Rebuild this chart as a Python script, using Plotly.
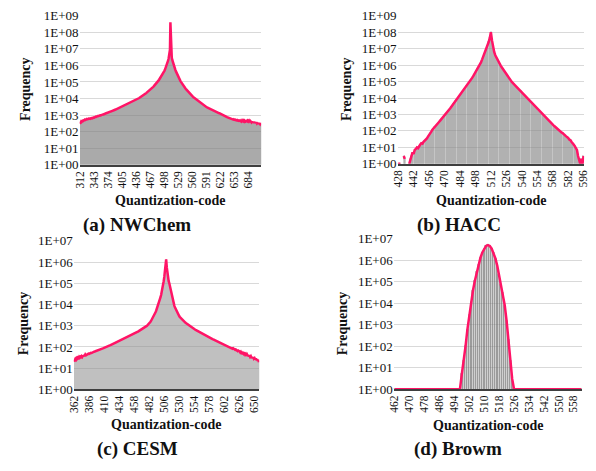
import plotly.graph_objects as go

# ---------------- data ----------------
nwchem_start = 312
nwchem_freq = [
    300, 380, 350, 420, 390, 440, 410, 470, 450, 500,
    480, 530, 510, 560, 540, 580, 560, 600, 570, 610,
    590, 620, 600, 640, 610, 660, 630, 680, 650, 700,
    690, 730, 710, 760, 740, 800, 780, 840, 820, 870,
    860, 900, 890, 940, 930, 980, 970, 1020, 1010, 1060,
    1060, 1100, 1100, 1150, 1150, 1200, 1210, 1260, 1270, 1330,
    1340, 1400, 1410, 1470, 1480, 1540, 1560, 1620, 1640, 1700,
    1720, 1780, 1810, 1870, 1900, 1960, 2000, 2060, 2100, 2170,
    2210, 2280, 2330, 2400, 2450, 2520, 2580, 2650, 2710, 2790,
    2860, 2940, 3010, 3100, 3180, 3270, 3360, 3460, 3560, 3660,
    3770, 3880, 4000, 4120, 4250, 4380, 4520, 4670, 4820, 4980,
    5150, 5320, 5500, 5690, 5880, 6080, 6290, 6510, 6740, 6980,
    7230, 7490, 7760, 8040, 8330, 8640, 8960, 9300, 9650, 10000,
    10400, 10800, 11200, 11700, 12200, 12700, 13200, 13800, 14400, 15000,
    15700, 16400, 17200, 18000, 18900, 19800, 20800, 21900, 23000, 24200,
    25500, 26900, 28400, 30000, 31700, 33500, 35500, 37600, 39900, 42400,
    45000, 47900, 51000, 54400, 58000, 62000, 66500, 71500, 77000, 83000,
    90000, 97000, 105000, 115000, 125000, 137000, 150000, 165000, 182000, 200000,
    222000, 246000, 273000, 304000, 340000, 380000, 430000, 490000, 560000, 650000,
    760000, 900000, 1080000, 1300000, 1600000, 2000000, 2600000, 3500000, 5000000, 9000000,
    400000000,
    12000000, 5000000, 3000000, 2200000, 1700000, 1350000, 1100000, 900000, 750000, 630000,
    530000, 450000, 385000, 330000, 285000, 248000, 216000, 190000, 167000, 148000,
    131000, 117000, 105000, 94000, 85000, 77000, 70000, 64000, 58500, 53500,
    49000, 45000, 41500, 38300, 35400, 32800, 30400, 28200, 26200, 24400,
    22700, 21200, 19800, 18500, 17300, 16200, 15200, 14300, 13400, 12600,
    12000, 11400, 10800, 10200, 9700, 9200, 8700, 8250, 7850, 7450,
    7100, 6750, 6400, 6100, 5800, 5500, 5250, 5000, 4750, 4550,
    4350, 4150, 3950, 3800, 3650, 3500, 3350, 3250, 3100, 3000,
    2950, 2850, 2800, 2700, 2750, 2600, 2550, 2400, 2350, 2250,
    2200, 2100, 2050, 1950, 1900, 1850, 1750, 1700, 1650, 1600,
    1550, 1500, 1480, 1420, 1400, 1350, 1330, 1300, 1260, 1280,
    1220, 1250, 1180, 1200, 1130, 1100, 1060, 1000, 960, 920,
    880, 850, 820, 790, 760, 740, 710, 690, 670, 650,
    640, 620, 600, 590, 570, 560, 550, 545, 530, 560,
    520, 540, 500, 520, 490, 510, 470, 500, 460, 480,
    450, 470, 440, 460, 430, 470, 420, 450, 440, 480,
    430, 460, 420, 470, 440, 410, 450, 420, 460, 430,
    470, 440, 410, 460, 420, 380, 430, 400, 370, 410,
    360, 400, 350, 390, 340, 380, 330, 370, 320, 360,
    320, 350, 300, 340, 290, 330, 300, 280, 320, 290,
]
nwchem_ticks = [312, 343, 374, 405, 436, 467, 498, 529, 560, 591, 622, 653, 684]

hacc_start = 428
hacc_freq = [
    1, 1, 1, None, None, 3, 2, None, None, None,
    1, 2, 3, 5, 4, 7, 8, 10, 9, 13,
    15, 18, 17, 22, 25, 30, 35, 45, 55, 75,
    90, 120, 140, 170, 200, 240, 290, 350, 420, 500,
    590, 710, 830, 1000, 1230, 1510, 1860, 2290, 2820, 3470,
    4270, 5250, 6460, 7940, 10000, 12300, 15100, 18600, 22900, 28200,
    34700, 42700, 52500, 64600, 79400, 100000, 129000, 167000, 215000, 278000,
    359000, 464000, 599000, 774000, 1000000, 1470000, 2150000, 3160000, 4640000, 6810000,
    10000000, 15800000, 25100000, 44700000, 100000000,
    31600000, 10000000, 6310000, 3980000, 2820000, 2000000, 1510000, 1150000, 890000, 710000,
    560000, 450000, 355000, 282000, 224000, 178000, 141000, 112000, 95000, 81000,
    69000, 58500, 50000, 42500, 36000, 30700, 26100, 22200, 18900, 16000,
    13600, 11600, 9800, 8300, 7000, 5900, 5000, 4200, 3550, 3000,
    2530, 2140, 1800, 1520, 1280, 1100, 950, 820, 700, 610,
    520, 450, 390, 330, 290, 250, 210, 185, 160, 130,
    120, 105, 95, 80, 75, 62, 58, 48, 42, 38,
    30, 28, 22, 19, 15, 12, 9, 7, 3, 2,
    1, 2, 1, 3,
]
hacc_ticks = [428, 442, 456, 470, 484, 498, 512, 526, 540, 554, 568, 582, 596]

cesm_start = 362
cesm_freq = [
    20, 24, 27, 25, 30, 28, 32, 30, 34, 31,
    35, 33, 37, 34, 40, 36, 42, 38, 44, 40,
    42, 46, 44, 48, 47, 50, 49, 53, 52, 55,
    56, 58, 60, 61, 63, 65, 66, 68, 70, 72,
    74, 76, 78, 80, 82, 84, 86, 88, 90, 93,
    96, 99, 102, 105, 108, 111, 115, 118, 122, 126,
    130, 134, 138, 143, 147, 152, 157, 162, 167, 172,
    177, 183, 189, 195, 201, 207, 214, 221, 228, 235,
    243, 251, 259, 268, 277, 286, 296, 306, 317, 328,
    340, 352, 364, 377, 391, 405, 420, 436, 452, 470,
    488, 507, 527, 548, 570, 593, 617, 642, 668, 695,
    724, 755, 790, 830, 875, 925, 980, 1040, 1110, 1190,
    1290, 1410, 1550, 1720, 1920, 2150, 2420, 2750, 3150, 3650,
    4300, 5100, 6100, 7400, 9000, 11000, 13500, 17000, 22000, 29000,
    39000, 55000, 80000, 125000, 200000, 350000, 650000,
    1350000,
    560000, 280000, 178000, 126000, 100000, 71000, 50000, 35500, 25000, 18600,
    14100, 11200, 8900, 7400, 6300, 5500, 4700, 4200, 3700, 3300,
    2800, 2550, 2350, 2180, 2020, 1880, 1760, 1650, 1550, 1460,
    1380, 1310, 1240, 1180, 1120, 1060, 1010, 960, 915, 870,
    830, 790, 755, 720, 690, 660, 635, 610, 585, 560,
    540, 520, 500, 480, 462, 445, 428, 412, 397, 383,
    369, 356, 343, 331, 320, 309, 298, 288, 278, 269,
    260, 251, 243, 235, 227, 220, 212, 205, 199, 193,
    187, 181, 175, 169, 164, 159, 154, 149, 144, 140,
    135, 131, 127, 123, 119, 115, 112, 108, 105, 102,
    99, 92, 96, 88, 90, 82, 86, 78, 80, 74,
    76, 70, 72, 64, 68, 60, 62, 56, 60, 52,
    55, 50, 52, 46, 49, 43, 47, 40, 44, 38,
    42, 36, 40, 34, 37, 31, 34, 29, 33, 28,
    30, 26, 29, 24, 27, 22, 25, 19,
]
cesm_ticks = [362, 386, 410, 434, 458, 482, 506, 530, 554, 578, 602, 626, 650]

browm_start = 462
browm_freq = (
    [1] * 35
    + [1, 5, 20, 100, 600, 3000, 12000, 40000, 110000, 280000,
       640000, 1300000, 2300000, 3500000, 4600000, 5000000, 4600000, 3500000, 2200000, 1200000,
       550000, 210000, 70000, 30000, 8000, 1500, 200, 20, 3, 1]
    + [1] * 36
)
browm_ticks = [462, 470, 478, 486, 494, 502, 510, 518, 526, 534, 542, 550, 558]

# ---------------- layout ----------------
W, H = 596, 471
FONT = "Liberation Serif, Times New Roman, DejaVu Serif, serif"
LINE = "#FF1466"

panels = [
    # caption, start, freq, ticks, ymax, px-box (l, r, t, b), caption pos, x-title pos, y-title pos,
    # bar fill, bar edge, edge width
    ("(a) NWChem", nwchem_start, nwchem_freq, nwchem_ticks, 9, (75, 260, 9, 163),
     (133, 225), (167, 200), (20, 85), "rgba(125,125,125,0.65)", "rgba(0,0,0,0)", 0),
    ("(b) HACC", hacc_start, hacc_freq, hacc_ticks, 9, (399, 589, 9, 162),
     (462, 225), (494, 200), (347, 85), "rgba(150,150,150,0.55)", "rgba(120,120,120,0.6)", 0.3),
    ("(c) CESM", cesm_start, cesm_freq, cesm_ticks, 7, (69, 258, 241.5, 395),
     (134, 457), (163, 431), (18, 327), "rgba(140,140,140,0.55)", "rgba(0,0,0,0)", 0),
    ("(d) Browm", browm_start, browm_freq, browm_ticks, 7, (395, 587, 239.3, 394.7),
     (460, 457), (491, 432), (343, 327), "rgba(160,160,160,0.5)", "rgba(100,100,100,0.8)", 0.4),
]

fig = go.Figure()
annotations = []
for i, (cap, start, freq, ticks, ymax, box, cap_pos, xt_pos, yt_pos, fill, edge, ew) in enumerate(panels):
    n = i + 1
    xs = list(range(start, start + len(freq)))
    xa = "x" if n == 1 else f"x{n}"
    ya = "y" if n == 1 else f"y{n}"
    fig.add_trace(go.Bar(x=xs, y=freq, xaxis=xa, yaxis=ya,
                         marker=dict(color=fill, line=dict(color=edge, width=ew)),
                         showlegend=False, hoverinfo="skip"))
    fig.add_trace(go.Scatter(x=xs, y=freq, xaxis=xa, yaxis=ya, mode="lines",
                             line=dict(color=LINE, width=2.5), connectgaps=False,
                             showlegend=False, hoverinfo="skip"))
    l, r, t, b = box
    xkey = "xaxis" if n == 1 else f"xaxis{n}"
    ykey = "yaxis" if n == 1 else f"yaxis{n}"
    fig.update_layout(**{
        xkey: dict(domain=[l / W, r / W], anchor=ya, range=[start - 0.5, start + len(freq) - 0.5],
                   tickmode="array", tickvals=ticks, ticktext=[str(v) for v in ticks],
                   tickangle=-90, showgrid=False, zeroline=False, showline=True,
                   linecolor="#3f3f3f", linewidth=1.5, ticks="",
                   tickfont=dict(family=FONT, size=11.5, color="#111")),
        ykey: dict(domain=[1 - b / H, 1 - t / H], anchor=xa, type="log", range=[0, ymax],
                   tickmode="array", tickvals=[10 ** k for k in range(ymax + 1)],
                   ticktext=[f"1E+{k:02d}" for k in range(ymax + 1)],
                   showgrid=True, gridcolor="#d9d9d9", gridwidth=1, zeroline=False,
                   showline=False, ticks="",
                   tickfont=dict(family=FONT, size=13, color="#111")),
    })
    annotations.append(dict(text=f"<b>{cap}</b>", x=cap_pos[0] / W, y=1 - cap_pos[1] / H,
                            xref="paper", yref="paper", showarrow=False,
                            xanchor="center", yanchor="middle",
                            font=dict(family=FONT, size=19, color="#111")))
    annotations.append(dict(text="<b>Quantization-code</b>", x=xt_pos[0] / W, y=1 - xt_pos[1] / H,
                            xref="paper", yref="paper", showarrow=False,
                            xanchor="center", yanchor="middle",
                            font=dict(family=FONT, size=14, color="#111")))
    annotations.append(dict(text="<b>Frequency</b>", x=yt_pos[0] / W, y=1 - yt_pos[1] / H,
                            xref="paper", yref="paper", showarrow=False, textangle=-90,
                            xanchor="center", yanchor="middle",
                            font=dict(family=FONT, size=14, color="#111")))

fig.update_layout(width=W, height=H, margin=dict(l=0, r=0, t=0, b=0),
                  paper_bgcolor="white", plot_bgcolor="white",
                  bargap=0, barmode="overlay", annotations=annotations,
                  font=dict(family=FONT))
fig.write_html("out.html", config={"displayModeBar": False},
               post_script="document.body.style.margin='0';document.body.style.overflow='hidden';")
